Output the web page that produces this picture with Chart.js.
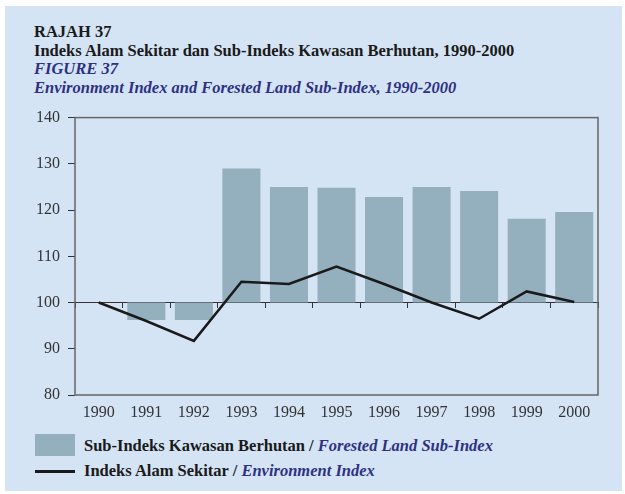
<!DOCTYPE html>
<html>
<head>
<meta charset="utf-8">
<script src="https://cdn.jsdelivr.net/npm/chart.js@4"></script>
<style>
  body { margin: 0; width: 625px; height: 494px; background: #fff; position: relative; overflow: hidden; }
  #panel { position: absolute; left: 5px; top: 6px; width: 617px; height: 485px; background: #d4e4f4; }
  .t, .leg { position: absolute; font-family: "Liberation Serif", serif; font-weight: bold; font-size: 16.5px; line-height: 20px; white-space: nowrap; color: #1a1a1a; }
  .t { left: 34px; }
  .leg { left: 84px; }
  .en { color: #2e3182; font-style: italic; }
  #wrap { position: absolute; left: 0; top: 100px; width: 625px; height: 330px; }
</style>
</head>
<body>
<div id="panel"></div>
<div class="t" style="top:22px">RAJAH 37</div>
<div class="t" style="top:41px">Indeks Alam Sekitar dan Sub-Indeks Kawasan Berhutan, 1990-2000</div>
<div class="t en" style="top:59px">FIGURE 37</div>
<div class="t en" style="top:78px">Environment Index and Forested Land Sub-Index, 1990-2000</div>

<div id="wrap"><canvas id="myChart" width="625" height="330"></canvas></div>

<div style="position:absolute;left:35px;top:434px;width:40px;height:22px;background:#94afbe"></div>
<div class="leg" style="top:436px">Sub-Indeks Kawasan Berhutan / <span class="en">Forested Land Sub-Index</span></div>
<div style="position:absolute;left:35px;top:470px;width:40px;height:3px;background:#1a1a1a"></div>
<div class="leg" style="top:461px">Indeks Alam Sekitar / <span class="en">Environment Index</span></div>

<script>
var years = ['1990', '1991', '1992', '1993', '1994', '1995', '1996', '1997', '1998', '1999', '2000'];
var forested = [100, 96.2, 96.2, 129, 125, 124.8, 122.8, 125, 124.1, 118.1, 119.6];
var environment = [100, 96, 91.7, 104.5, 104, 107.8, 104, 100, 96.5, 102.4, 100.1];
var yTicks = [80, 90, 100, 110, 120, 130, 140];

// bars start from 100 line
var forestedBars = forested.map(function (v) { return [100, v]; });

var serif = '"Liberation Serif", serif';

var frame = {
  id: 'frame',
  afterDatasetsDraw: function (chart) {
    var a = chart.chartArea;
    var c = chart.ctx;
    c.save();
    c.strokeStyle = '#666';
    c.lineWidth = 1.5;
    c.strokeRect(a.left, a.top, a.right - a.left, a.bottom - a.top);
    c.restore();
  }
};

var ctx = document.getElementById('myChart');

var myChart = new Chart(ctx, {
  type: 'bar',
  data: {
    labels: years,
    datasets: [{
      type: 'line',
      label: 'Indeks Alam Sekitar',
      data: environment,
      borderColor: '#1a1a1a',
      borderWidth: 2.5,
      pointRadius: 0,
      tension: 0,
      order: 0
    }, {
      label: 'Sub-Indeks Kawasan Berhutan',
      data: forestedBars,
      backgroundColor: '#94afbe',
      borderWidth: 0,
      barPercentage: 0.8,
      categoryPercentage: 1,
      order: 1
    }]
  },
  options: {
    responsive: false,
    animation: false,
    layout: { padding: { top: 16, right: 27, left: 0, bottom: 0 } },
    plugins: { legend: { display: false }, tooltip: { enabled: false } },
    scales: {
      x: {
        position: 'bottom',
        grid: { display: false, drawTicks: false },
        border: { display: false },
        ticks: { color: '#333', font: { family: serif, size: 16 }, padding: 8 },
        afterFit: function (axis) { axis.height = 35; }
      },
      x2: {
        type: 'category',
        labels: years,
        position: { y: 100 },
        offset: true,
        grid: { offset: true, drawOnChartArea: false, drawTicks: true, tickLength: 5, color: '#333', lineWidth: 1 },
        border: { display: true, color: '#333', width: 1 },
        ticks: { display: false }
      },
      y: {
        min: 80,
        max: 140,
        afterBuildTicks: function (axis) { axis.ticks = yTicks.map(function (v) { return { value: v }; }); },
        grid: { drawOnChartArea: false, drawTicks: true, tickLength: 7, color: '#333' },
        border: { display: false },
        ticks: { color: '#333', font: { family: serif, size: 16 }, padding: 8 },
        afterFit: function (axis) { axis.width = 75; }
      }
    }
  },
  plugins: [frame]
});
</script>
</body>
</html>
